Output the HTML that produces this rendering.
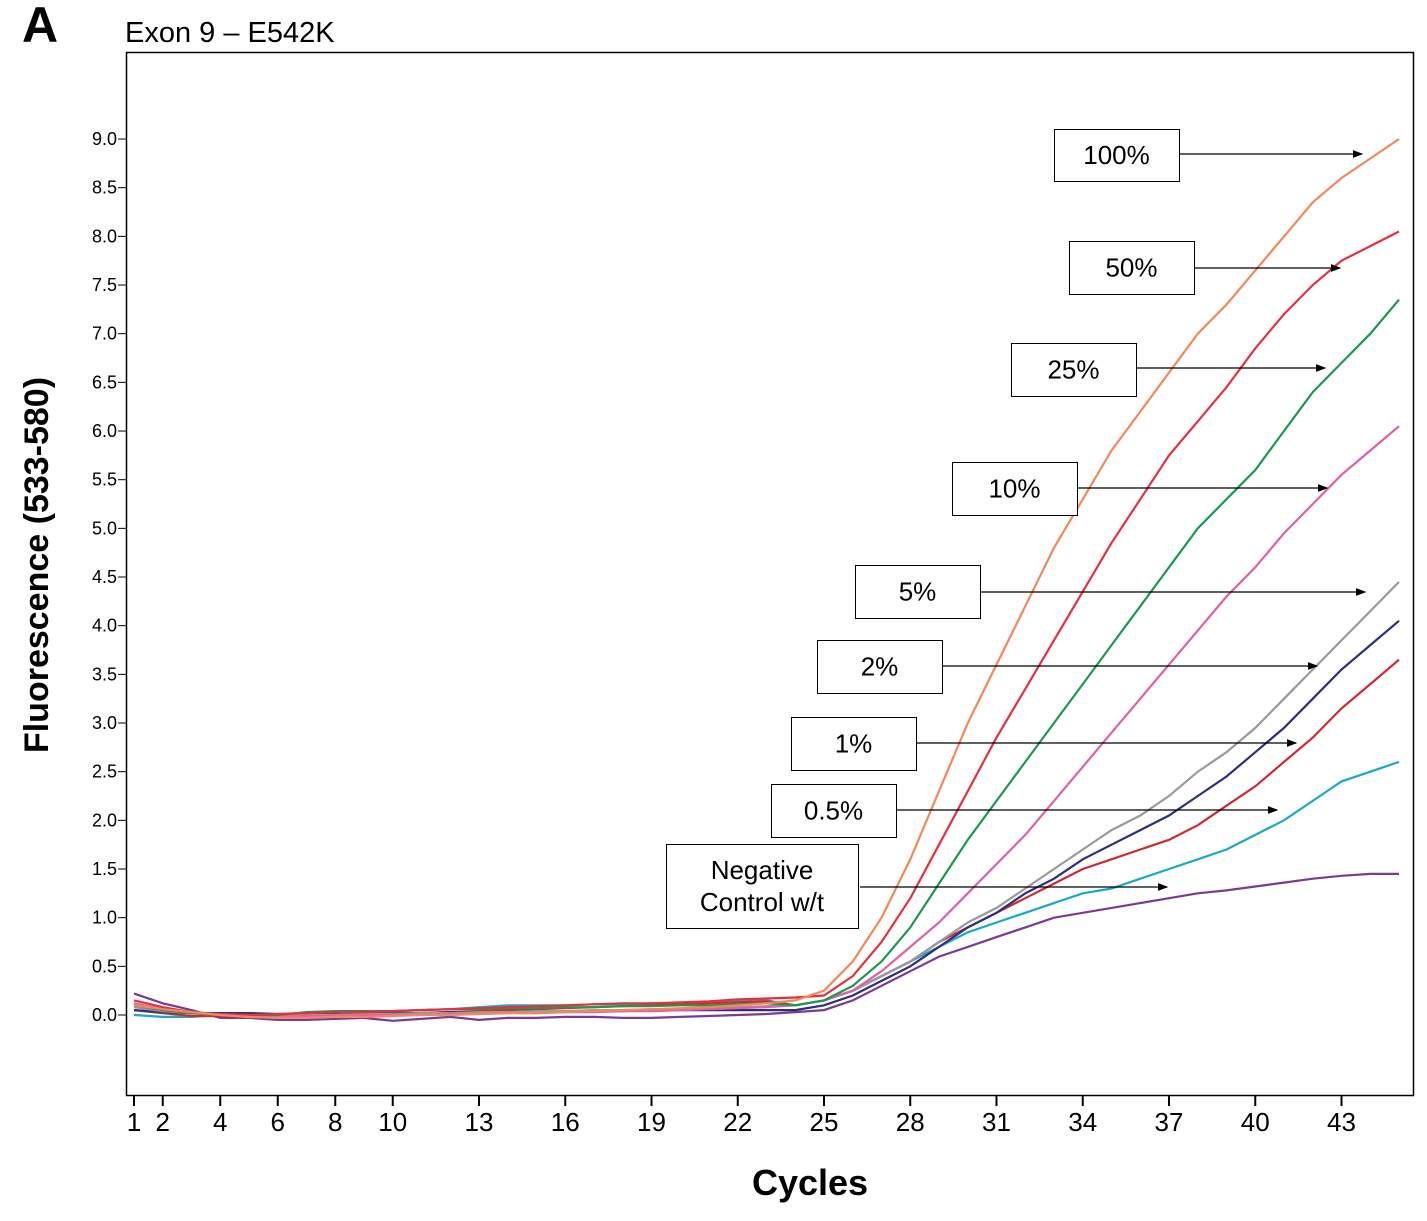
<!DOCTYPE html>
<html><head><meta charset="utf-8"><style>
body{margin:0;background:#fff;}
svg text{font-family:"Liberation Sans",Arial,sans-serif;}
</style></head><body>
<svg width="1427" height="1216" xmlns="http://www.w3.org/2000/svg" id="chart">
<text x="22" y="42" font-size="50" font-weight="bold">A</text>
<text x="125" y="42" font-size="29">Exon 9 – E542K</text>
<rect x="126.5" y="52.5" width="1287" height="1043" fill="none" stroke="#000" stroke-width="1.5"/>
<text transform="translate(48,565) rotate(-90)" font-size="34" font-weight="bold" text-anchor="middle">Fluorescence (533-580)</text>
<text x="810" y="1195" font-size="36" font-weight="bold" text-anchor="middle">Cycles</text>
<g id="yticks"></g><g id="xticks"></g><g id="series"></g><g id="labels"></g>
</svg>
<script>
const xTicks=[1,2,4,6,8,10,13,16,19,22,25,28,31,34,37,40,43];
const yTicks=[0,0.5,1,1.5,2,2.5,3,3.5,4,4.5,5,5.5,6,6.5,7,7.5,8,8.5,9];
const cycles=[];for(let c=1;c<=45;c++)cycles.push(c);
const seriesNames=["100%","50%","25%","10%","5%","2%","1%","0.5%","Negative Control w/t"];
const seriesColors=["#F5875A","#E8303C","#1A9A4A","#E060A8","#9A9A9A","#2B2F7F","#D02A30","#1AAAC8","#7B3A96"];
const s100=[0.1,0.06,0.03,0.0,-0.02,-0.03,-0.03,-0.02,-0.02,-0.01,0.0,0.0,0.01,0.02,0.02,0.03,0.04,0.05,0.06,0.07,0.08,0.1,0.12,0.15,0.25,0.55,1.0,1.6,2.3,3.0,3.6,4.2,4.8,5.3,5.8,6.2,6.6,7.0,7.3,7.65,8.0,8.35,8.6,8.8,9.0];
const s50=[0.15,0.08,0.03,0.01,0.0,0.01,0.02,0.03,0.03,0.04,0.05,0.06,0.07,0.08,0.09,0.1,0.11,0.12,0.12,0.13,0.14,0.16,0.17,0.18,0.2,0.4,0.75,1.2,1.75,2.3,2.85,3.35,3.85,4.35,4.85,5.3,5.75,6.1,6.45,6.85,7.2,7.5,7.75,7.9,8.05];
const s25=[0.1,0.05,0.02,0.0,0.0,0.0,0.03,0.04,0.04,0.04,0.05,0.06,0.06,0.07,0.07,0.08,0.08,0.09,0.09,0.1,0.1,0.11,0.12,0.1,0.15,0.3,0.55,0.9,1.35,1.8,2.2,2.6,3.0,3.4,3.8,4.2,4.6,5.0,5.3,5.6,6.0,6.4,6.7,7.0,7.35];
const s10=[0.12,0.06,0.03,0.0,-0.02,-0.02,-0.01,-0.01,0.0,0.0,0.0,0.01,0.01,0.02,0.02,0.03,0.03,0.04,0.04,0.05,0.06,0.07,0.08,0.1,0.15,0.25,0.45,0.7,0.95,1.25,1.55,1.85,2.2,2.55,2.9,3.25,3.6,3.95,4.3,4.6,4.95,5.25,5.55,5.8,6.05];
const s5=[0.08,0.04,0.02,0.0,0.0,-0.01,0.0,0.0,0.01,0.01,0.02,0.02,0.03,0.03,0.04,0.04,0.05,0.05,0.06,0.06,0.07,0.08,0.09,0.1,0.15,0.25,0.4,0.55,0.75,0.95,1.1,1.3,1.5,1.7,1.9,2.05,2.25,2.5,2.7,2.95,3.25,3.55,3.85,4.15,4.45];
const s2=[0.05,0.03,0.02,0.02,0.02,0.01,0.01,0.01,0.01,0.02,0.02,0.03,0.03,0.03,0.04,0.04,0.04,0.04,0.05,0.05,0.05,0.05,0.05,0.05,0.1,0.2,0.35,0.5,0.7,0.9,1.05,1.25,1.4,1.6,1.75,1.9,2.05,2.25,2.45,2.7,2.95,3.25,3.55,3.8,4.05];
const s1=[0.05,0.02,-0.01,-0.01,-0.02,-0.02,-0.02,0.0,0.0,0.01,0.02,0.03,0.04,0.05,0.06,0.07,0.08,0.09,0.1,0.11,0.12,0.13,0.14,0.1,0.15,0.25,0.4,0.55,0.75,0.9,1.05,1.2,1.35,1.5,1.6,1.7,1.8,1.95,2.15,2.35,2.6,2.85,3.15,3.4,3.65];
const s05=[0.0,-0.02,-0.02,0.0,0.02,0.0,0.02,0.03,0.04,0.04,0.05,0.06,0.08,0.1,0.1,0.1,0.11,0.11,0.12,0.12,0.13,0.14,0.15,0.1,0.15,0.25,0.4,0.55,0.7,0.85,0.95,1.05,1.15,1.25,1.3,1.4,1.5,1.6,1.7,1.85,2.0,2.2,2.4,2.5,2.6];
const sNeg=[0.22,0.12,0.05,-0.03,-0.03,-0.05,-0.05,-0.04,-0.03,-0.06,-0.04,-0.02,-0.05,-0.03,-0.03,-0.02,-0.02,-0.03,-0.03,-0.02,-0.01,0.0,0.01,0.03,0.05,0.15,0.3,0.45,0.6,0.7,0.8,0.9,1.0,1.05,1.1,1.15,1.2,1.25,1.28,1.32,1.36,1.4,1.43,1.45,1.45];
const allSeries=[s100,s50,s25,s10,s5,s2,s1,s05,sNeg];
// label boxes: [left, top, width, height, arrowEndX, arrowY]
const boxes=[[1054,129,125,52,1362,154],[1069,241,125,53,1340,268],[1011,343,125,53,1325,368],[952,462,125,53,1327,488],[855,565,125,53,1365,592],[817,640,125,53,1317,666],[791,717,125,53,1296,743],[771,784,125,53,1277,810],[666,844,192,84,1167,887]];
const X=c=>134+(c-1)*28.75;
const Y=v=>1015-v*97.33;
const NS="http://www.w3.org/2000/svg";
function mk(t,a,p){const e=document.createElementNS(NS,t);for(const k in a)e.setAttribute(k,a[k]);p.appendChild(e);return e;}
const yt=document.getElementById('yticks');
yTicks.forEach(v=>{
 const l=mk('line',{x1:118,x2:126,y1:Y(v),y2:Y(v),stroke:'#000','stroke-width':1},yt);
 
 
 const t=mk('text',{x:117,y:Y(v)+6,'font-size':18,'text-anchor':'end'},yt);t.textContent=v.toFixed(1);
 
 
});
const xt=document.getElementById('xticks');
xTicks.forEach(c=>{
 const l=mk('line',{x1:X(c),x2:X(c),y1:1095,y2:1106,stroke:'#000','stroke-width':2},xt);
 
 
 const t=mk('text',{x:X(c),y:1131,'font-size':26,'text-anchor':'middle'},xt);t.textContent=c;
 
 
});
const sg=document.getElementById('series');
for(let i=allSeries.length-1;i>=0;i--){
 const d=allSeries[i].map((v,j)=>(j?'L':'M')+X(cycles[j]).toFixed(1)+','+Y(v).toFixed(1)).join('');
 const p=mk('path',{d:d,fill:'none',stroke:seriesColors[i],'stroke-width':2.2},sg);
 
 
}
const lg=document.getElementById('labels');
mk('defs',{},lg).innerHTML='<marker id="ah" markerWidth="8" markerHeight="8" refX="7" refY="4" orient="auto"><path d="M0,1L8,4L0,7z" fill="#000"/></marker>';
boxes.forEach((b,i)=>{
 const r=mk('rect',{x:b[0]+0.5,y:b[1]+0.5,width:b[2],height:b[3],fill:'#fff',stroke:'#000','stroke-width':1},lg);
 
 
 const ax=i===8?b[0]+b[2]+2:b[0]+b[2];
 const a=mk('line',{x1:ax,x2:b[4],y1:b[5],y2:b[5],stroke:'#000','stroke-width':1.3,'marker-end':'url(#ah)'},lg);
 
 
 const t=mk('text',{x:b[0]+b[2]/2,'font-size':26,'text-anchor':'middle'},lg);
 
 
 if(i===8){t.setAttribute('y',b[1]+35);t.innerHTML='<tspan x="'+(b[0]+b[2]/2)+'">Negative</tspan><tspan x="'+(b[0]+b[2]/2)+'" dy="32">Control w/t</tspan>';}
 else{t.setAttribute('y',b[1]+b[3]/2+9);t.textContent=seriesNames[i];}
});
</script>
</body></html>
